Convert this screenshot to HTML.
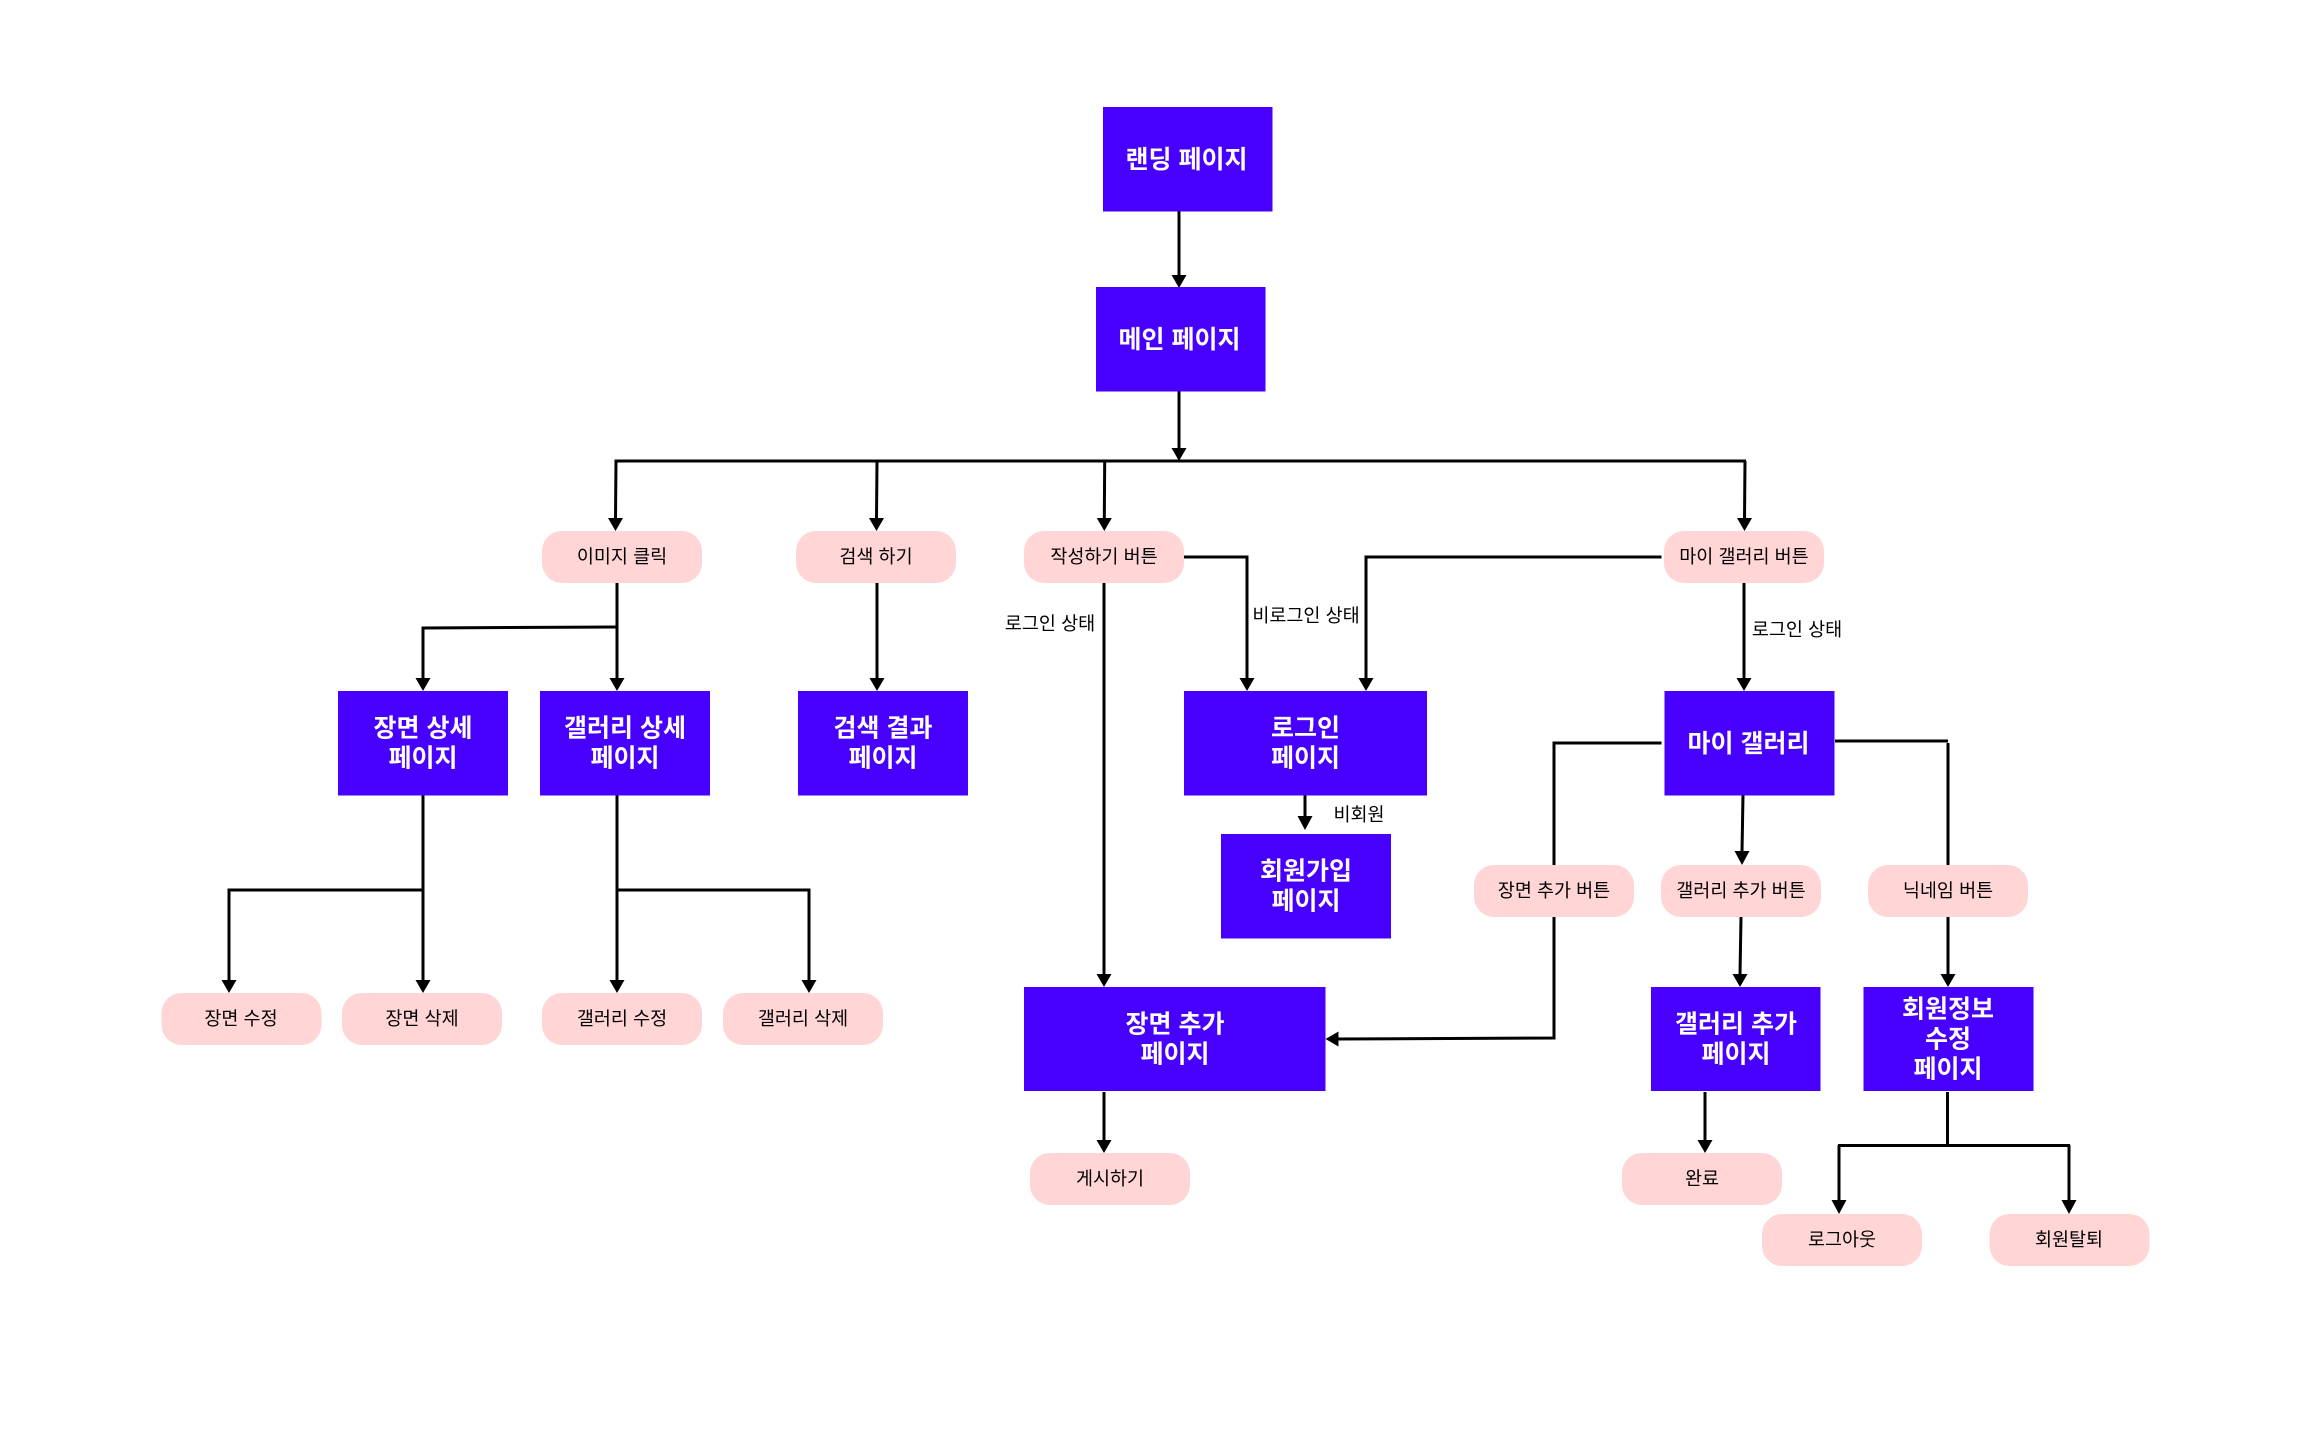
<!DOCTYPE html>
<html lang="ko"><head><meta charset="utf-8"><title>Flow</title>
<style>
html,body{margin:0;padding:0;background:#fff}
svg{display:block}
text{font-family:"Liberation Sans","Noto Sans CJK KR",sans-serif;text-anchor:middle}
.b{fill:#4700ff}
.p{fill:#ffd5d5}
.h{fill:#fff;font-weight:700;font-size:25px}
.t{fill:#000;font-size:18.5px}
.l{fill:none;stroke:#000;stroke-width:3;stroke-linejoin:miter;stroke-linecap:butt}
.a{fill:#000}
</style></head><body>
<svg width="2310" height="1434" viewBox="0 0 2310 1434" xmlns="http://www.w3.org/2000/svg">
<rect width="2310" height="1434" fill="#fff"/>

<!-- connectors -->
<g class="l">
<path d="M1179 211V276"/>
<path d="M1179 391V449"/>
<path d="M614.5 461H1746"/>
<path d="M616 461L615.5 519"/>
<path d="M877 461L876.5 519"/>
<path d="M1104.7 461L1104.3 519"/>
<path d="M1745 461L1744.5 519"/>
<path d="M617 583V679"/>
<path d="M617 627L423 628V679"/>
<path d="M877 583V679"/>
<path d="M1184 557H1247V679"/>
<path d="M1661.5 557H1366V679"/>
<path d="M1104 583V975"/>
<path d="M1744 583V679"/>
<path d="M1305 795V817"/>
<path d="M423 795V981"/>
<path d="M423 890H229V981"/>
<path d="M617 795V981"/>
<path d="M617 890H809V981"/>
<path d="M1661.5 743H1554V865"/>
<path d="M1554 917V1038L1338 1039"/>
<path d="M1743 795L1742 852"/>
<path d="M1835 741H1948"/>
<path d="M1948 743V865"/>
<path d="M1741 917L1740 975"/>
<path d="M1948 917V975"/>
<path d="M1104 1092V1141"/>
<path d="M1705 1092V1141"/>
<path d="M1947.5 1092V1145"/>
<path d="M1838 1145.5H2070"/>
<path d="M1839 1145V1201"/>
<path d="M2069 1145V1201"/>
</g>

<!-- arrowheads -->
<g class="a">
<polygon points="1171.5,275 1186.5,275 1179,288"/>
<polygon points="1171.5,448 1186.5,448 1179,461"/>
<polygon points="608,518 623,518 615.5,531"/>
<polygon points="869,518 884,518 876.5,531"/>
<polygon points="1096.8,518 1111.8,518 1104.3,531"/>
<polygon points="1737,518 1752,518 1744.5,531"/>
<polygon points="609.5,678 624.5,678 617,691"/>
<polygon points="415.5,678 430.5,678 423,691"/>
<polygon points="869.5,678 884.5,678 877,691"/>
<polygon points="1239.5,678 1254.5,678 1247,691"/>
<polygon points="1358.5,678 1373.5,678 1366,691"/>
<polygon points="1736.5,678 1751.5,678 1744,691"/>
<polygon points="1297.5,816 1312.5,816 1305,830"/>
<polygon points="221.5,980 236.5,980 229,993"/>
<polygon points="415.5,980 430.5,980 423,993"/>
<polygon points="609.5,980 624.5,980 617,993"/>
<polygon points="801.5,980 816.5,980 809,993"/>
<polygon points="1734.5,851 1749.5,851 1742,865"/>
<polygon points="1096.5,974 1111.5,974 1104,987"/>
<polygon points="1732.5,974 1747.5,974 1740,987"/>
<polygon points="1940.5,974 1955.5,974 1948,987"/>
<polygon points="1338.5,1031.5 1338.5,1046.5 1325.5,1039"/>
<polygon points="1096.5,1140 1111.5,1140 1104,1153"/>
<polygon points="1697.5,1140 1712.5,1140 1705,1153"/>
<polygon points="1831.5,1200 1846.5,1200 1839,1214"/>
<polygon points="2061.5,1200 2076.5,1200 2069,1214"/>
</g>

<!-- blue boxes -->
<rect class="b" x="1103" y="107" width="169.5" height="104.5"/>
<rect class="b" x="1096" y="287" width="169.5" height="104.5"/>
<rect class="b" x="338" y="691" width="170" height="104.5"/>
<rect class="b" x="540" y="691" width="170" height="104.5"/>
<rect class="b" x="798" y="691" width="170" height="104.5"/>
<rect class="b" x="1184" y="691" width="243" height="104.5"/>
<rect class="b" x="1664.5" y="691" width="170" height="104.5"/>
<rect class="b" x="1221" y="834" width="170" height="104.5"/>
<rect class="b" x="1024" y="987" width="301.5" height="104"/>
<rect class="b" x="1651" y="987" width="169.5" height="104"/>
<rect class="b" x="1863.5" y="987" width="170" height="104"/>

<!-- pink nodes -->
<rect class="p" x="542" y="531" width="160" height="52" rx="20"/>
<rect class="p" x="796" y="531" width="160" height="52" rx="20"/>
<rect class="p" x="1024" y="531" width="160" height="52" rx="20"/>
<rect class="p" x="1664" y="531" width="160" height="52" rx="20"/>
<rect class="p" x="1474" y="865" width="160" height="52" rx="20"/>
<rect class="p" x="1661" y="865" width="160" height="52" rx="20"/>
<rect class="p" x="1868" y="865" width="160" height="52" rx="20"/>
<rect class="p" x="161.5" y="993" width="160" height="52" rx="20"/>
<rect class="p" x="342" y="993" width="160" height="52" rx="20"/>
<rect class="p" x="542" y="993" width="160" height="52" rx="20"/>
<rect class="p" x="723" y="993" width="160" height="52" rx="20"/>
<rect class="p" x="1030" y="1153" width="160" height="52" rx="20"/>
<rect class="p" x="1622" y="1153" width="160" height="52" rx="20"/>
<rect class="p" x="1762" y="1214" width="160" height="52" rx="20"/>
<rect class="p" x="1989.5" y="1214" width="160" height="52" rx="20"/>

<!-- blue labels -->
<g class="h">
<text x="1186.5" y="168">랜딩 페이지</text>
<text x="1179.5" y="348">메인 페이지</text>
<text x="423" y="736.5">장면 상세</text><text x="423" y="766.5">페이지</text>
<text x="625" y="736.5">갤러리 상세</text><text x="625" y="766.5">페이지</text>
<text x="883" y="736.5">검색 결과</text><text x="883" y="766.5">페이지</text>
<text x="1305.5" y="736.5">로그인</text><text x="1305.5" y="766.5">페이지</text>
<text x="1748.5" y="752">마이 갤러리</text>
<text x="1306" y="879.5">회원가입</text><text x="1306" y="909.5">페이지</text>
<text x="1175" y="1032.5">장면 추가</text><text x="1175" y="1062.5">페이지</text>
<text x="1736" y="1032.5">갤러리 추가</text><text x="1736" y="1062.5">페이지</text>
<text x="1948" y="1017.5">회원정보</text><text x="1948" y="1047.5">수정</text><text x="1948" y="1077.5">페이지</text>
</g>

<!-- pink labels and edge labels -->
<g class="t">
<text x="622" y="563">이미지 클릭</text>
<text x="876" y="563">검색 하기</text>
<text x="1104" y="563">작성하기 버튼</text>
<text x="1744" y="563">마이 갤러리 버튼</text>
<text x="1554" y="897">장면 추가 버튼</text>
<text x="1741" y="897">갤러리 추가 버튼</text>
<text x="1948" y="897">닉네임 버튼</text>
<text x="241" y="1025">장면 수정</text>
<text x="422" y="1025">장면 삭제</text>
<text x="622" y="1025">갤러리 수정</text>
<text x="803" y="1025">갤러리 삭제</text>
<text x="1110" y="1185">게시하기</text>
<text x="1702" y="1185">완료</text>
<text x="1842" y="1246">로그아웃</text>
<text x="2069" y="1246">회원탈퇴</text>
<text x="1050" y="630">로그인 상태</text>
<text x="1306" y="622">비로그인 상태</text>
<text x="1359" y="821">비회원</text>
<text x="1797" y="636">로그인 상태</text>
</g>
</svg>
</body></html>
